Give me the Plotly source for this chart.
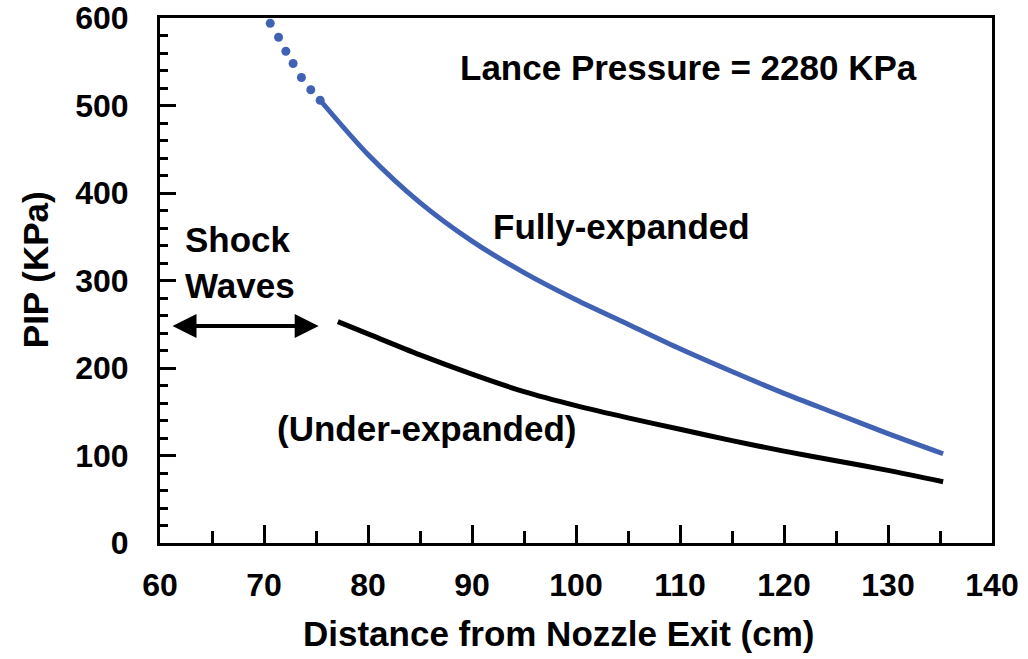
import plotly.graph_objects as go

# Pitot impact pressure along the jet axis, lance pressure 2280 KPa
full_dot_x = [70.6, 71.4, 72.1, 72.8, 73.6, 74.5, 75.4]
full_dot_y = [594, 578, 562, 548, 532, 518, 506]

full_x = [75.4, 80, 85, 90, 95, 100, 105, 110, 115, 120, 125, 130, 135.3]
full_y = [506, 444, 389, 345, 309, 278, 250, 222, 196, 171, 148, 125, 102]

under_x = [77.1, 80, 85, 90, 95, 100, 105, 110, 115, 120, 125, 130, 135.3]
under_y = [253, 239, 215, 193, 173, 157, 143, 130, 117, 105, 94, 83, 70]

x_ticks = [60, 70, 80, 90, 100, 110, 120, 130, 140]
y_ticks = [0, 100, 200, 300, 400, 500, 600]

BLUE = "#4162B3"
FONT = "Liberation Sans, Arial, sans-serif"

fig = go.Figure()

fig.add_trace(go.Scatter(
    x=full_dot_x, y=full_dot_y, mode="markers",
    marker=dict(color=BLUE, size=9, line=dict(width=0)),
    showlegend=False, hoverinfo="skip"))

fig.add_trace(go.Scatter(
    x=full_x, y=full_y, mode="lines",
    line=dict(color=BLUE, width=5, shape="spline", smoothing=0.8),
    showlegend=False))

fig.add_trace(go.Scatter(
    x=under_x, y=under_y, mode="lines",
    line=dict(color="black", width=5, shape="spline", smoothing=0.8),
    showlegend=False))

txt = dict(family=FONT, size=35, color="black", weight="bold")

fig.add_annotation(x=110.8, y=544, text="Lance Pressure = 2280 KPa",
                   showarrow=False, font=txt)
fig.add_annotation(x=104.4, y=362, text="Fully-expanded",
                   showarrow=False, font=txt)
fig.add_annotation(x=62.2, y=321, text="Shock<br>Waves", xanchor="left",
                   align="left", showarrow=False, font=txt)
fig.add_annotation(x=85.6, y=131, text="(Under-expanded)",
                   showarrow=False, font=txt)

# double-headed arrow marking the shock-wave region
fig.add_annotation(x=61.2, y=248, ax=75.4, ay=248, axref="x", ayref="y",
                   text="", showarrow=True, arrowside="end+start",
                   arrowhead=2, arrowsize=1.2, arrowwidth=4,
                   arrowcolor="black", standoff=0, startstandoff=0)

# axis titles placed relative to the plot area
fig.add_annotation(xref="paper", yref="paper", x=0.48, y=-0.173,
                   xanchor="center", yanchor="middle",
                   text="Distance from Nozzle Exit (cm)", showarrow=False,
                   font=txt)
fig.add_annotation(xref="paper", yref="paper", x=-0.150, y=0.52,
                   xanchor="center", yanchor="middle",
                   text="PIP (KPa)", textangle=-90, showarrow=False,
                   font=txt)

tickfont = dict(family=FONT, size=32, color="black", weight="bold")

fig.update_xaxes(
    range=[60, 140], tickvals=x_ticks, ticktext=[str(v) for v in x_ticks],
    ticks="inside", ticklen=18, tickwidth=3, tickcolor="black",
    minor=dict(dtick=5, ticks="inside", ticklen=12, tickwidth=3, tickcolor="black"),
    showline=True, linewidth=3, linecolor="black", mirror=True,
    showgrid=False, zeroline=False, automargin=False,
    tickfont=tickfont, ticklabelstandoff=12,
)
fig.update_yaxes(
    range=[0, 600], tickvals=y_ticks, ticktext=[str(v) for v in y_ticks],
    ticks="inside", ticklen=16, tickwidth=3, tickcolor="black",
    minor=dict(dtick=20, ticks="inside", ticklen=8, tickwidth=3, tickcolor="black"),
    showline=True, linewidth=3, linecolor="black", mirror=True,
    showgrid=False, zeroline=False, automargin=False,
    tickfont=tickfont, ticklabelstandoff=22,
)

fig.update_layout(
    width=1028, height=659,
    margin=dict(l=160, r=36, t=18, b=116),
    paper_bgcolor="white", plot_bgcolor="white",
    showlegend=False,
)

fig.write_html("out.html")
